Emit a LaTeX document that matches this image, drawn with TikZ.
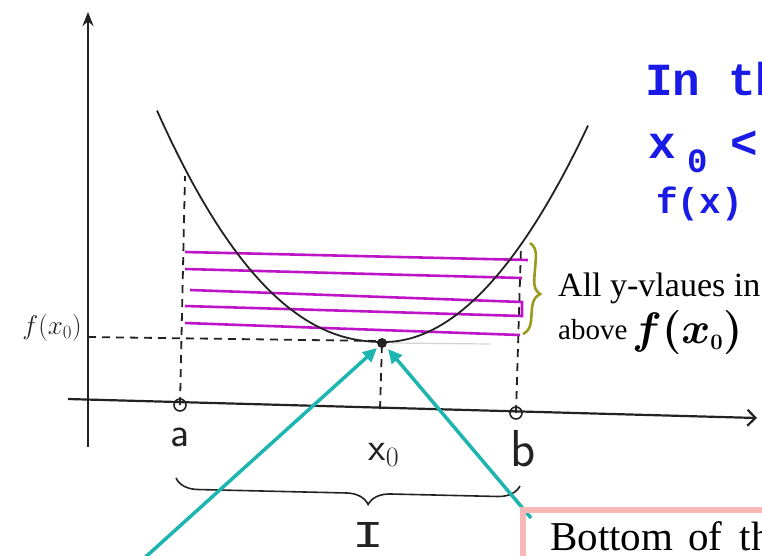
\RequirePackage{fix-cm}
\documentclass[tikz,border=0pt]{standalone}
\usepackage{amsmath}
\usepackage{graphicx}
\usepackage{fontspec}
\setmainfont{Liberation Serif}
\newfontfamily\hand{Liberation Mono}
\usetikzlibrary{arrows.meta,decorations.pathreplacing}
\definecolor{cyanA}{HTML}{1CB5B0}
\definecolor{magA}{HTML}{BE14C8}
\definecolor{oliveA}{HTML}{9A9A1E}
\definecolor{blueA}{HTML}{1A1AE6}
\definecolor{pinkA}{HTML}{F8B8B8}
\definecolor{inkA}{HTML}{222222}
\tikzset{
  axisline/.style={inkA, line width=2.2pt},
  dashline/.style={inkA, line width=1.8pt, dash pattern=on 8pt off 6pt},
  curveline/.style={inkA, line width=1.8pt},
  magline/.style={magA, line width=2.6pt},
  cyanarrow/.style={cyanA, line width=3.5pt, -{Triangle[length=14pt,width=13pt]}},
  pinkbox/.style={pinkA, line width=6pt},
  handlabel/.style={inkA, inner sep=0pt, font=\sffamily},
  bluetext/.style={blueA, inner sep=0pt, anchor=base west, font=\hand\bfseries},
  serifnote/.style={inner sep=0pt, anchor=base west}
}
\begin{document}
\begin{tikzpicture}[x=1pt, y=-1pt]
\useasboundingbox (0,0) rectangle (762,555);
\clip (0,0) rectangle (762,555);
% coordinates
\coordinate (yb) at (88,447);
\coordinate (yt) at (88,12);
\coordinate (xl) at (68,399);
\coordinate (xr) at (757,418);
\coordinate (A) at (180,405);
\coordinate (B) at (516,413);
\coordinate (X0) at (380,409);
\coordinate (V) at (382,343);
\coordinate (Atop) at (185,176);
\coordinate (Btop) at (521,246);
\coordinate (F0) at (88,337);
\coordinate (F0r) at (380,341);
\coordinate (G1) at (392,343);
\coordinate (G2) at (490,344);
% dashed guide lines
\draw[dashline] (A) -- (Atop);
\draw[dashline] (B) -- (Btop);
\draw[dashline] (X0) -- (V);
\draw[dashline] (F0) -- (F0r);
\draw[gray!35, line width=1.2pt] (G1) -- (G2);
% magenta lines
\coordinate (m1l) at (185,252); \coordinate (m1r) at (528,260);
\coordinate (m2l) at (185,269); \coordinate (m2r) at (522,278);
\coordinate (m3l) at (190,290); \coordinate (m3r) at (522,302);
\coordinate (m4l) at (185,306); \coordinate (m4r) at (522,316);
\coordinate (m5l) at (185,323); \coordinate (m5r) at (520,335);
\draw[magline] (m1l) -- (m1r);
\draw[magline] (m2l) -- (m2r);
\draw[magline] (m3l) -- (m3r) -- (m4r) -- (m4l);
\draw[magline] (m5l) -- (m5r);
% curve
\draw[curveline] plot[domain=157:384, samples=70] (\x,{342-89*((384.01-\x)/147)^2.2})
  -- plot[domain=384:588, samples=60] (\x,{342-52*((\x-384)/100)^2});
\fill[inkA] (V) circle (5pt);
% axes
\draw[axisline, -{Stealth[length=14pt,width=11pt]}] (yb) -- (yt);
\draw[axisline, -{Straight Barb[length=8pt,width=16pt]}] (xl) -- (xr);
\draw[inkA, line width=1.6pt] (A) circle (6pt);
\draw[inkA, line width=1.6pt] (B) circle (6pt);
% olive brace
\coordinate (ob1) at (530,243);
\coordinate (ob2) at (523,334);
\draw[oliveA, line width=2.6pt, decorate, decoration={brace, amplitude=14pt, aspect=0.55}] (ob1) -- (ob2);
% bottom brace
\coordinate (bb1) at (176,478);
\coordinate (bb2) at (520,486);
\draw[inkA, line width=1.6pt, decorate, decoration={brace, mirror, amplitude=22pt, aspect=0.56}] (bb1) -- (bb2);
% labels
\node[handlabel, font=\sffamily\fontsize{42}{42}\selectfont] (la) at (180,437) {a};
\node[handlabel, font=\sffamily\fontsize{52}{52}\selectfont] (lb) at (523,449) {b};
\node[handlabel, font=\sffamily\fontsize{40}{40}\selectfont] (lx) at (384,455) {x$_0$};
\node[handlabel, font=\hand\fontsize{38}{38}\selectfont] (lI) at (368,535) {\scalebox{1.4}[1]{I}};
\node[inkA, inner sep=0pt] (lf0) at (52,328) {\fontsize{27}{27}\selectfont$f(x_0)$};
% cyan arrows
\coordinate (C1) at (140,562);
\coordinate (T1) at (377,348);
\coordinate (C2) at (531,518);
\coordinate (T2) at (388,349);
\draw[cyanarrow] (C1) -- (T1);
\draw[cyanarrow] (C2) -- (T2);
% pink box
\coordinate (pbtl) at (523,510);
\coordinate (pbbl) at (523,600);
\coordinate (pbtr) at (800,510);
\draw[pinkbox] (pbbl) -- (pbtl) -- (pbtr);
\node[serifnote, font=\fontsize{41}{44}\selectfont] (bot) at (550,550) {Bottom\hspace{5pt} of\hspace{7pt} the};
% right notes
\node[serifnote, font=\fontsize{34}{36}\selectfont] (all) at (558,296) {All y-vlaues in};
\node[serifnote, font=\fontsize{29}{32}\selectfont] (abv) at (558,339) {above};
\node[inner sep=0pt, anchor=base west] (fx0) at (632,343) {\fontsize{44}{44}\selectfont$\boldsymbol{f(x_{\scriptscriptstyle 0})}$};
% blue handwriting
\node[bluetext, font=\hand\bfseries\fontsize{46}{46}\selectfont] (in) at (645,95) {In th};
\node[bluetext, font=\hand\bfseries\fontsize{46}{46}\selectfont] (xx) at (648,158) {x};
\node[bluetext, font=\hand\bfseries\fontsize{34}{34}\selectfont] (x0) at (687,172) {0};
\node[bluetext, font=\hand\bfseries\fontsize{46}{46}\selectfont] (lt) at (730,158) {<};
\node[bluetext, font=\hand\bfseries\fontsize{36}{36}\selectfont] (fx) at (656,213) {f(x)};
\end{tikzpicture}
\end{document}
